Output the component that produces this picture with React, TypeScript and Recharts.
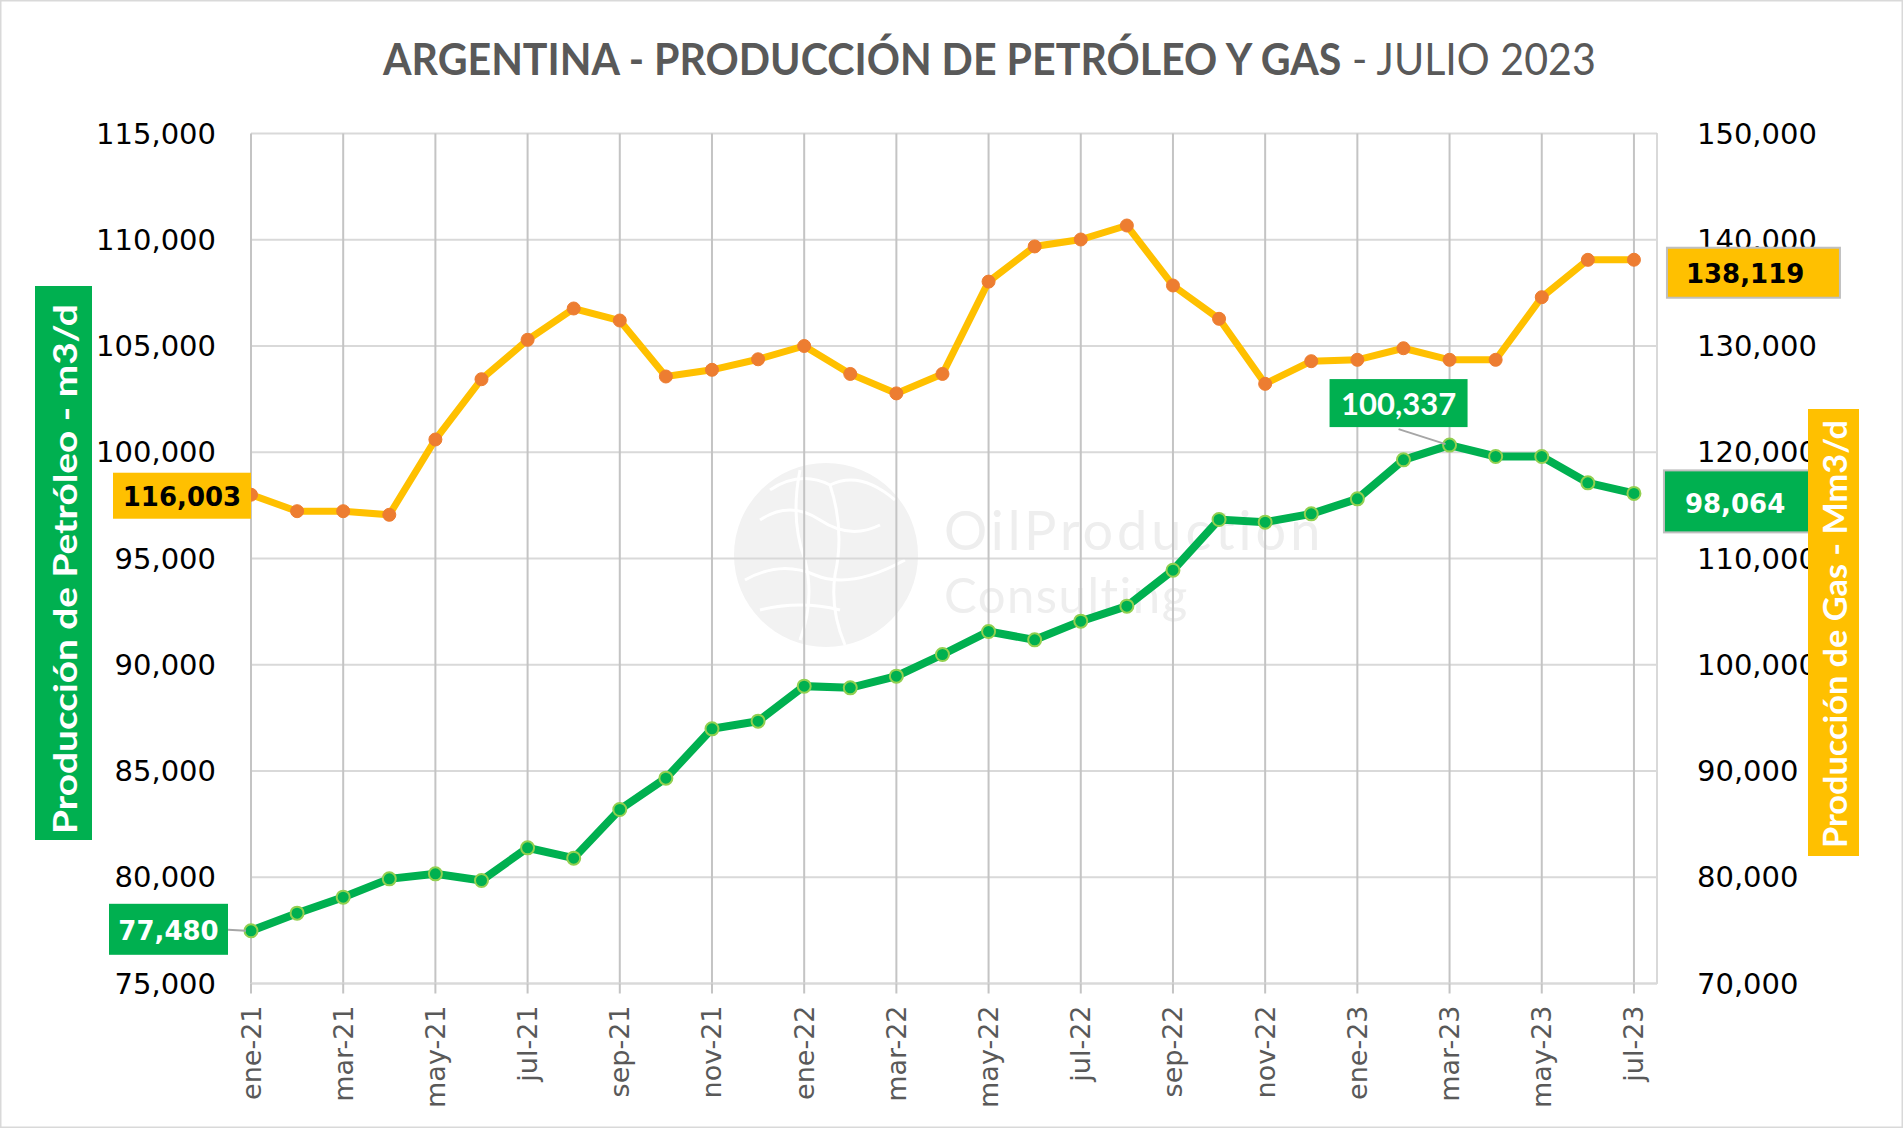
import React, { useLayoutEffect, useRef, useState } from "react";
import { LineChart, Line, XAxis, YAxis, CartesianGrid, ReferenceLine } from "recharts";

const months = [
  "ene-21", "feb-21", "mar-21", "abr-21", "may-21", "jun-21", "jul-21", "ago-21", "sep-21", "oct-21", "nov-21", "dic-21",
  "ene-22", "feb-22", "mar-22", "abr-22", "may-22", "jun-22", "jul-22", "ago-22", "sep-22", "oct-22", "nov-22", "dic-22",
  "ene-23", "feb-23", "mar-23", "abr-23", "may-23", "jun-23", "jul-23",
];

// petróleo, m3/d (eje izquierdo)
const oil = [
  77480, 78310, 79063, 79925, 80160, 79847, 81384, 80898, 83188, 84663, 86984, 87345,
  88992, 88914, 89463, 90482, 91565, 91173, 92051, 92757, 94450, 96835, 96710, 97102,
  97808, 99643, 100337, 99800, 99800, 98561, 98064,
];

// gas, Mm3/d (eje derecho)
const gas = [
  116003, 114452, 114452, 114113, 121200, 126875, 130583, 133530, 132400, 127130, 127760, 128750,
  130000, 127370, 125540, 127370, 136060, 139370, 140024, 141341, 135694, 132560, 126440, 128570,
  128700, 129790, 128700, 128700, 134594, 138110, 138119,
];

const xTicks = [0, 2, 4, 6, 8, 10, 12, 14, 16, 18, 20, 22, 24, 26, 28, 30];
const oilTicks = [75000, 80000, 85000, 90000, 95000, 100000, 105000, 110000, 115000];
const gasTicks = [70000, 80000, 90000, 100000, 110000, 120000, 130000, 140000, 150000];

const rows = months.map((m, i) => ({ i, month: m, oil: oil[i], gas: gas[i] }));

const fmt = (v: number) => v.toLocaleString("en-US");
const AXIS_FONT = "'DejaVu Sans', Verdana, sans-serif";
const TITLE_FONT = "Lato, 'Open Sans', sans-serif";

// squeezes a text horizontally to a given width (Calibri-like narrow look)
function FitText(props: any) {
  const { x, y, width, rotate = 0, anchor = "start", children, ...rest } = props;
  const ref = useRef<SVGTextElement>(null);
  const [s, setS] = useState(1);
  useLayoutEffect(() => {
    if (ref.current) {
      const w = ref.current.getBBox().width;
      if (w > 0) setS(width / w);
    }
  }, [width]);
  return (
    <g transform={`translate(${x},${y}) rotate(${rotate}) scale(${s},1)`}>
      <text ref={ref} x={0} y={0} textAnchor={anchor} {...rest}>
        {children}
      </text>
    </g>
  );
}

function XTick(props: any) {
  const { x, y, payload } = props;
  return (
    <g transform={`translate(${x},${y})`}>
      <text
        transform="rotate(-90)"
        textAnchor="end"
        dominantBaseline="central"
        fill="#595959"
        fontFamily={AXIS_FONT}
        fontSize={27}
      >
        {months[payload.value]}
      </text>
    </g>
  );
}

function leftTick(props: any) {
  const { x, y, payload } = props;
  return (
    <text x={x} y={y} textAnchor="end" dominantBaseline="central" fill="#000" fontFamily={AXIS_FONT} fontSize={29}>
      {fmt(payload.value)}
    </text>
  );
}

function rightTick(props: any) {
  const { x, y, payload } = props;
  return (
    <text x={x} y={y} textAnchor="start" dominantBaseline="central" fill="#000" fontFamily={AXIS_FONT} fontSize={29}>
      {fmt(payload.value)}
    </text>
  );
}

function pos(p: any) {
  const x = p.x ?? p.viewBox?.x;
  const y = p.y ?? p.viewBox?.y;
  return { x: Number(x), y: Number(y) };
}

function gasLabel(p: any) {
  const { x, y } = pos(p);
  const i = p.index;
  if (i === 0) {
    return (
      <g key="g0">
        <rect x={x - 138} y={y - 22} width={138} height={46} fill="#FFC000" />
        <text x={x - 69} y={y + 2} textAnchor="middle" dominantBaseline="central" fontFamily={AXIS_FONT} fontWeight={700} fontSize={26} fill="#000">
          {fmt(gas[i])}
        </text>
      </g>
    );
  }
  if (i === gas.length - 1) {
    return (
      <g key="glast">
        <rect x={x + 33} y={y - 12} width={173} height={50} fill="#FFC000" stroke="#bfbfbf" strokeWidth={2} />
        <text x={x + 52} y={y + 14} textAnchor="start" dominantBaseline="central" fontFamily={AXIS_FONT} fontWeight={700} fontSize={26} fill="#000">
          {fmt(gas[i])}
        </text>
      </g>
    );
  }
  return <g key={`g${i}`} />;
}

function oilLabel(p: any) {
  const { x, y } = pos(p);
  const i = p.index;
  if (i === 0) {
    return (
      <g key="o0">
        <line x1={x - 23} y1={y - 1} x2={x - 5} y2={y} stroke="#a6a6a6" strokeWidth={2} />
        <rect x={x - 142} y={y - 27} width={119} height={51} fill="#00B050" />
        <text x={x - 82.5} y={y} textAnchor="middle" dominantBaseline="central" fontFamily={AXIS_FONT} fontWeight={700} fontSize={26} fill="#fff">
          {fmt(oil[i])}
        </text>
      </g>
    );
  }
  if (i === 26) {
    return (
      <g key="o26">
        <line x1={x - 51} y1={y - 16} x2={x - 4} y2={y - 1} stroke="#a6a6a6" strokeWidth={2} />
        <rect x={x - 120} y={y - 66} width={138} height={48} fill="#00B050" />
        <text x={x - 51} y={y - 42} textAnchor="middle" dominantBaseline="central" fontFamily={TITLE_FONT} fontWeight={700} fontSize={31} fill="#fff">
          {fmt(oil[i])}
        </text>
      </g>
    );
  }
  if (i === oil.length - 1) {
    return (
      <g key="olast">
        <rect x={x + 30} y={y - 23} width={151} height={62} fill="#00B050" stroke="#bfbfbf" strokeWidth={2} />
        <text x={x + 51} y={y + 11} textAnchor="start" dominantBaseline="central" fontFamily={AXIS_FONT} fontWeight={700} fontSize={26} fill="#fff">
          {fmt(oil[i])}
        </text>
      </g>
    );
  }
  return <g key={`o${i}`} />;
}

function Watermark() {
  return (
    <svg width={1903} height={1128} style={{ position: "absolute", left: 0, top: 0 }}>
      <circle cx={826} cy={555} r={92} fill="#f2f2f2" />
      <g stroke="#ffffff" strokeWidth={3} fill="none">
        <path d="M770 490 Q 800 470 830 485 Q 860 470 895 500" />
        <path d="M760 520 Q 790 500 820 520 Q 850 540 880 525" />
        <path d="M800 470 Q 790 520 805 560 Q 815 600 800 640" />
        <path d="M830 485 Q 845 530 835 575 Q 830 610 845 645" />
        <path d="M745 580 Q 780 560 815 575 Q 850 590 905 560" />
        <path d="M760 610 Q 800 600 840 610" />
      </g>
      <text fontFamily={TITLE_FONT} fill="#eeeeee">
        <tspan x={944} y={550} fontSize={54} letterSpacing={4}>OilProduction</tspan>
        <tspan x={944} y={613} fontSize={49} letterSpacing={1.5}>Consulting</tspan>
      </text>
    </svg>
  );
}

function Overlay() {
  return (
    <svg width={1903} height={1128} style={{ position: "absolute", left: 0, top: 0, pointerEvents: "none" }}>
      <rect x={0.5} y={0.5} width={1902} height={1127} fill="none" stroke="#d9d9d9" strokeWidth={2} />
      <FitText x={383} y={75} width={1214} fontFamily={TITLE_FONT} fontSize={44} fill="#595959">
        <tspan fontWeight={700}>ARGENTINA - PRODUCCIÓN DE PETRÓLEO Y GAS</tspan>
        <tspan fontWeight={400}> - JULIO 2023</tspan>
      </FitText>
      <rect x={35} y={286} width={57} height={554} fill="#00B050" />
      <FitText
        x={64}
        y={569}
        rotate={-90}
        width={530}
        anchor="middle"
        dominantBaseline="central"
        fontFamily={TITLE_FONT}
        fontWeight={700}
        fontSize={33}
        fill="#fff"
      >
        Producción de Petróleo - m3/d
      </FitText>
      <rect x={1808} y={409} width={51} height={447} fill="#FFC000" />
      <FitText
        x={1834}
        y={634}
        rotate={-90}
        width={428}
        anchor="middle"
        dominantBaseline="central"
        fontFamily={TITLE_FONT}
        fontWeight={700}
        fontSize={33}
        fill="#fff"
      >
        Producción de Gas - Mm3/d
      </FitText>
    </svg>
  );
}

export default function App() {
  return (
    <div style={{ position: "absolute", left: 0, top: 0, width: 1903, height: 1128, background: "#fff", overflow: "hidden" }}>
      <Watermark />
      <div style={{ position: "absolute", left: 0, top: 0 }}>
        <LineChart width={1903} height={1128} data={rows} margin={{ top: 133.5, right: 0, bottom: 0, left: 0 }}>
          <CartesianGrid yAxisId="oil" vertical={false} stroke="#d9d9d9" strokeWidth={2} />
          <CartesianGrid yAxisId="oil" horizontal={false} stroke="#c4c4c4" strokeWidth={2} />
          <XAxis
            dataKey="i"
            type="number"
            domain={[0, 30.5]}
            ticks={xTicks}
            interval={0}
            height={144.5}
            tickSize={10}
            tickMargin={12}
            tickLine={{ stroke: "#c4c4c4", strokeWidth: 2 }}
            axisLine={{ stroke: "#d9d9d9", strokeWidth: 2 }}
            tick={XTick}
          />
          <YAxis
            yAxisId="oil"
            domain={[75000, 115000]}
            ticks={oilTicks}
            interval={0}
            width={251}
            axisLine={false}
            tickLine={false}
            tickSize={0}
            tickMargin={35}
            tick={leftTick}
          />
          <YAxis
            yAxisId="gas"
            orientation="right"
            domain={[70000, 150000]}
            ticks={gasTicks}
            interval={0}
            width={246}
            axisLine={false}
            tickLine={false}
            tickSize={0}
            tickMargin={40}
            tick={rightTick}
          />
          <ReferenceLine yAxisId="oil" x={30.5} stroke="#d9d9d9" strokeWidth={2} />
          <Line
            yAxisId="gas"
            dataKey="gas"
            type="linear"
            stroke="#FFC000"
            strokeWidth={7}
            dot={{ r: 6.5, fill: "#ED7D31", stroke: "#ED7D31", strokeWidth: 1 }}
            activeDot={false}
            isAnimationActive={false}
            label={gasLabel}
          />
          <Line
            yAxisId="oil"
            dataKey="oil"
            type="linear"
            stroke="#00B050"
            strokeWidth={8}
            dot={{ r: 6.5, fill: "#00B050", stroke: "#92D050", strokeWidth: 2 }}
            activeDot={false}
            isAnimationActive={false}
            label={oilLabel}
          />
        </LineChart>
      </div>
      <Overlay />
    </div>
  );
}
